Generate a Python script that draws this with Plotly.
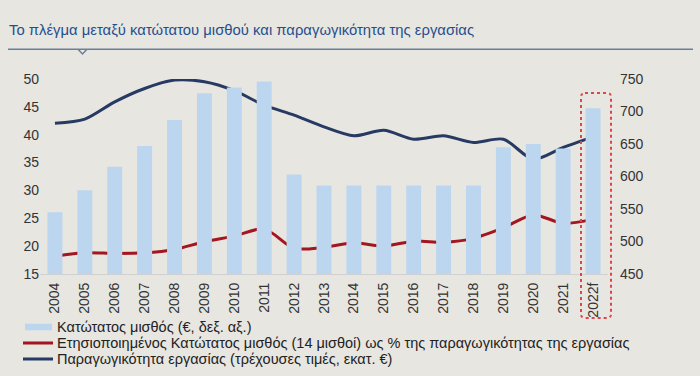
import plotly.graph_objects as go

years = ["2004", "2005", "2006", "2007", "2008", "2009", "2010", "2011", "2012", "2013",
         "2014", "2015", "2016", "2017", "2018", "2019", "2020", "2021", "2022f"]
min_wage = [545, 579, 615, 647, 687, 728, 737, 746, 603, 586,
            586, 586, 586, 586, 586, 645, 650, 643, 705]
wage_pct_productivity = [18.2, 18.8, 18.7, 18.8, 19.4, 20.8, 21.8, 23.1, 19.6, 19.8,
                         20.6, 20.0, 20.9, 20.7, 21.4, 23.3, 25.6, 24.1, 24.8]
productivity = [42.05, 42.8, 45.9, 48.3, 49.8, 49.5, 47.9, 45.3, 43.5, 41.4,
                39.8, 40.8, 39.2, 39.8, 38.6, 39.2, 35.6, 37.7, 39.6]

names = ["Κατώτατος μισθός (€, δεξ. αξ.)",
         "Ετησιοποιημένος Κατώτατος μισθός (14 μισθοί) ως % της παραγωγικότητας της εργασίας",
         "Παραγωγικότητα εργασίας (τρέχουσες τιμές, εκατ. €)"]
title = "Το πλέγμα μεταξύ κατώτατου μισθού και παραγωγικότητα της εργασίας"

BG = "#e8e6e1"
FONT = "Liberation Sans, Arial, sans-serif"
BAR_C = "#bcd6ef"
RED_C = "#a3151f"
BLUE_C = "#263a63"

W, H = 700, 376
L, R, T, B = 40, 92, 79, 102
PW, PH = W - L - R, H - T - B


def px(xp):
    return (xp - L) / PW


def py(yp):
    return (H - B - yp) / PH


fig = go.Figure()
fig.add_trace(go.Bar(x=years, y=min_wage, yaxis="y2", name=names[0],
                     marker=dict(color=BAR_C, line=dict(width=0))))
fig.add_trace(go.Scatter(x=years, y=wage_pct_productivity, yaxis="y", name=names[1],
                         mode="lines", line=dict(color=RED_C, width=3, shape="spline", smoothing=0.8)))
fig.add_trace(go.Scatter(x=years, y=productivity, yaxis="y", name=names[2],
                         mode="lines", line=dict(color=BLUE_C, width=3, shape="spline", smoothing=0.8)))

# manual legend (compact rows)
rows_y = [327.0, 343.0, 359.0]
annotations = [dict(text=title, xref="paper", yref="paper", x=px(7), y=py(30),
                    xanchor="left", yanchor="middle", showarrow=False,
                    font=dict(family=FONT, size=14.85, color="#1f4f8f"))]
for name, ry in zip(names, rows_y):
    annotations.append(dict(text=name, xref="paper", yref="paper", x=px(56), y=py(ry),
                            xanchor="left", yanchor="middle", showarrow=False, borderpad=0,
                            font=dict(family=FONT, size=14.5, color="#222222")))

shapes = [
    dict(type="line", xref="paper", yref="paper", x0=px(8), x1=px(693), y0=py(49.3), y1=py(49.3),
         line=dict(color="#6d7f95", width=1.5)),
    dict(type="path", xref="paper", yref="paper",
         path=f"M {px(78)},{py(49.3)} L {px(82.5)},{py(54)} L {px(87)},{py(49.3)}",
         line=dict(color="#6d7f95", width=1.5)),
    dict(type="rect", xref="paper", yref="paper", x0=px(25), x1=px(52),
         y0=py(rows_y[0] - 3.3), y1=py(rows_y[0] + 3.3), fillcolor=BAR_C, line=dict(width=0)),
    dict(type="line", xref="paper", yref="paper", x0=px(23), x1=px(53),
         y0=py(rows_y[1]), y1=py(rows_y[1]), line=dict(color=RED_C, width=3)),
    dict(type="line", xref="paper", yref="paper", x0=px(23), x1=px(53),
         y0=py(rows_y[2]), y1=py(rows_y[2]), line=dict(color=BLUE_C, width=3)),
]
# dotted rounded box around the forecast year
x0, x1, y0, y1, rr = 581, 611, 93, 318, 4
box = (f"M {px(x0 + rr)},{py(y0)} L {px(x1 - rr)},{py(y0)} Q {px(x1)},{py(y0)} {px(x1)},{py(y0 + rr)} "
       f"L {px(x1)},{py(y1 - rr)} Q {px(x1)},{py(y1)} {px(x1 - rr)},{py(y1)} "
       f"L {px(x0 + rr)},{py(y1)} Q {px(x0)},{py(y1)} {px(x0)},{py(y1 - rr)} "
       f"L {px(x0)},{py(y0 + rr)} Q {px(x0)},{py(y0)} {px(x0 + rr)},{py(y0)} Z")
shapes.append(dict(type="path", xref="paper", yref="paper", path=box,
                   line=dict(color="#e0444f", width=2, dash="dot")))

fig.update_layout(
    width=W, height=H,
    margin=dict(l=L, r=R, t=T, b=B, autoexpand=False),
    paper_bgcolor=BG, plot_bgcolor=BG,
    bargap=0.5,
    font=dict(family=FONT, color="#333333", size=14),
    showlegend=False,
    xaxis=dict(type="category", tickangle=-90, showgrid=False, showline=True,
               linecolor="#d0d0d0", linewidth=1, ticks="", ticklabelstandoff=2,
               tickfont=dict(family=FONT, size=14, color="#333333")),
    yaxis=dict(range=[15, 50], dtick=5, showgrid=False, zeroline=False, ticks="",
               tickfont=dict(family=FONT, size=14, color="#333333")),
    yaxis2=dict(range=[450, 750], dtick=50, overlaying="y", side="right", showgrid=False,
                zeroline=False, ticks="", ticklabelstandoff=11,
                tickfont=dict(family=FONT, size=14, color="#333333")),
    annotations=annotations,
    shapes=shapes,
)

fig.write_html("out.html", config={"displayModeBar": False},
               post_script="document.body.style.margin='0';")
